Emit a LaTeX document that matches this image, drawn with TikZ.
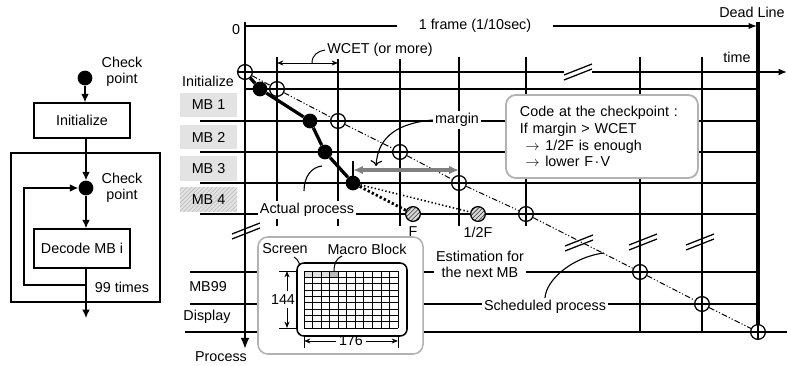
\documentclass[tikz,border=0pt]{standalone}
\usepackage{fontspec}
\setmainfont{Liberation Sans}
\usetikzlibrary{arrows.meta,positioning,patterns}

\begin{document}
\begin{tikzpicture}[x=0.025cm, y=-0.025cm,
    font=\fontsize{10.2}{11.5}\selectfont,
    flowbox/.style={draw, line width=1pt, minimum width=2.4cm, inner sep=0pt},
    flow/.style={line width=1pt, -{Latex[length=6pt,width=5.5pt]}},
    chkpt/.style={circle, fill=black, minimum size=10.5pt, inner sep=0pt},
    schedpt/.style={circle, draw, fill=white, line width=0.9pt, minimum size=10.5pt, inner sep=0pt,
        path picture={\draw[line width=0.9pt] (path picture bounding box.north) -- (path picture bounding box.south)
                      (path picture bounding box.west) -- (path picture bounding box.east);}},
    estpt/.style={circle, draw, line width=0.9pt, minimum size=10.5pt, inner sep=0pt,
        preaction={fill=gray!30}, pattern=north east lines, pattern color=black!80},
    mbbox/.style={fill=gray!22, minimum width=1.425cm, minimum height=0.6cm, inner sep=0pt},
    mbhatch/.style={preaction={fill=gray!22}, pattern=north east lines, pattern color=gray!55,
        minimum width=1.425cm, minimum height=0.6cm, inner sep=0pt},
    rowline/.style={line width=0.9pt},
    timeline/.style={line width=1.2pt},
    lbl/.style={fill=white, inner sep=1.5pt},
    dimarrow/.style={line width=0.7pt, -{Stealth[length=4.5pt,width=3.5pt]}},
    brk/.pic={\draw[line width=0.9pt] (-14,8) -- (14,-3) (-14,3) -- (14,-8);}
]
\useasboundingbox (0,0) rectangle (788,366);

% ---------------- left: flow of the decoder ----------------
\node[chkpt] (cp1) at (85,78) {};
\node[align=center] (cp1lbl) at (122,72) {Check\\point};
\node[flowbox, minimum height=0.875cm] (init) at (82,120.5) {Initialize};
\node[draw, line width=0.8pt, minimum width=3.725cm, minimum height=3.725cm, inner sep=0pt] (loopbox) at (85.5,227.5) {};
\node[chkpt] (cp2) at (86,188) {};
\node[align=center] (cp2lbl) at (122,188) {Check\\point};
\node[flowbox, minimum height=0.975cm] (decode) at (82,248.5) {Decode MB i};
\node (times) at (122,287) {99 times};

\coordinate (loopturn) at (86,285);
\coordinate (loopleft) at (24,285);
\coordinate (exitpt) at (86,318);
\draw[flow] (cp1) -- (cp1 |- init.north);
\draw[flow] (init.south -| cp2) -- (cp2);
\draw[flow] (cp2) -- (cp2 |- decode.north);
\draw[flow] (decode.south -| cp2) -- (loopturn) -- (loopleft) |- (cp2);
\draw[flow] (loopturn) -- (exitpt);

% ---------------- right: time chart ----------------
% grid of rows (processes) and columns (time)
\foreach \x in {277,338,400,459,526}
    \draw[timeline] (\x,57) -- (\x,226);
\foreach \x in {640,702}
    \draw[timeline] (\x,57) -- (\x,332);
\draw[rowline] (245,89) -- (758,89);
\foreach \y in {121,152,183,214}
    \draw[rowline] (200,\y) -- (758,\y);
\draw[rowline] (190,272) -- (758,272);
\draw[rowline] (190,304) -- (758,304);
\draw[rowline] (185,332) -- (787,332);

% axes
\draw[line width=1.6pt, -{Latex[length=8pt,width=6.5pt]}] (245,22) -- (245,349);
\draw[line width=1.6pt] (245,72) -- (564,72);
\draw[line width=1.6pt, -{Latex[length=6pt,width=5pt]}] (592,72) -- (787,72);
\draw[line width=2.2pt] (758,22) -- (758,338);
\pic at (578,72) {brk};
\pic at (246,231) {brk};
\pic at (579,243) {brk};
\pic at (643,242) {brk};
\pic at (700,242) {brk};

% frame length
\node[inner xsep=15pt] (frame) at (475,26) {1 frame (1/10sec)};
\draw[line width=0.9pt] (245,26) -- (frame.west);
\draw[line width=0.9pt, -{Latex[length=6pt,width=4.5pt]}] (frame.east) -- (757,26);
\node (zero) at (236,30) {0};
\node (deadline) at (752,12) {Dead Line};
\node (timelbl) at (737,57) {time};
\node (proclbl) at (221,357) {Process};

% row names
\node (initlbl) at (208,81) {Initialize};
\node[mbbox] (mb1) at (208.5,105) {MB 1};
\node[mbbox] (mb2) at (208.5,137) {MB 2};
\node[mbbox] (mb3) at (208.5,168.5) {MB 3};
\node[mbhatch] (mb4) at (208.5,199.5) {MB 4};
\node (mb99) at (208,287) {MB99};
\node (displbl) at (207,317) {Display};

% WCET
\coordinate (wL) at (277,63);
\coordinate (wR) at (338,63);
\coordinate (wmid) at (312,63);
\draw[line width=0.7pt, {Stealth[length=4.5pt,width=3.5pt]}-{Stealth[length=4.5pt,width=3.5pt]}] (wL) -- (wR);
\node[lbl] (wcet) at (380,50) {WCET (or more)};
\draw[line width=0.7pt] (wmid) .. controls (312,55) and (318,51) .. (wcet.west);

% scheduled process
\node[schedpt] (s0) at (245,72) {};
\node[schedpt] (s1) at (277,89) {};
\node[schedpt] (s2) at (338,121) {};
\node[schedpt] (s3) at (400,152) {};
\node[schedpt] (s4) at (459,183) {};
\node[schedpt] (s5) at (526,214) {};
\node[schedpt] (s6) at (640,272) {};
\node[schedpt] (s7) at (702,304) {};
\node[schedpt] (s8) at (758,332) {};
\foreach \a/\b in {s0/s1,s1/s2,s2/s3,s3/s4,s4/s5,s5/s6,s6/s7,s7/s8}
    \draw[line width=0.7pt, dash pattern=on 4pt off 1.5pt on 0.8pt off 1.5pt on 0.8pt off 1.5pt] (\a) -- (\b);

% actual process
\node[chkpt] (a1) at (260,89) {};
\node[chkpt] (a2) at (310,121) {};
\node[chkpt] (a3) at (325,152) {};
\node[chkpt] (a4) at (353,183) {};
\draw[line width=2.3pt] (s0) -- (a1) -- (a2) -- (a3) -- (a4);

% estimation for MB 4
\node[estpt] (fpt) at (413,214) {};
\node[estpt] (hpt) at (478,214) {};
\draw[line width=2pt, dash pattern=on 1.6pt off 1.6pt] (a4) -- (fpt);
\draw[line width=1.1pt, dash pattern=on 1pt off 1.6pt] (a4) -- (hpt);
\node[below=0pt of fpt] (flbl) {F};
\node[below=0pt of hpt] (hlbl) {1/2F};

% margin
\coordinate (mL) at (353,170);
\coordinate (mR) at (459,170);
\draw[line width=0.9pt] (353,161) -- (353,178);
\draw[black!50, line width=2.2pt, {Latex[length=7pt,width=6pt]}-{Latex[length=7pt,width=6pt]}] (mL) -- (mR);
\node[lbl] (marginlbl) at (457,120) {margin};
\coordinate (margintip) at (376,166);
\draw[line width=0.8pt, -{To[length=4pt]}] (marginlbl.west) .. controls (400,123) and (378,135) .. (margintip);

% actual process label
\node[lbl] (actlbl) at (307,210) {Actual process};
\coordinate (actA) at (304,191);
\coordinate (actB) at (322,166);
\draw[line width=0.8pt] (actA) .. controls (304,176) and (312,167) .. (actB);

% code at the checkpoint
\node[draw=gray!60, line width=1.3pt, rounded corners=7pt, fill=white, text width=4.1cm, inner xsep=0.35cm,
      minimum height=2.075cm, align=left, font=\fontsize{10.2}{12}\selectfont] (code) at (602,136.5)
    {Code at the checkpoint :\\If margin > WCET\\\hspace*{4pt}$\rightarrow$\hspace{4pt}1/2F is enough\\\hspace*{4pt}$\rightarrow$\hspace{4pt}lower F{\kern1pt}·{\kern1pt}V};

% screen and macro blocks
\node[draw=gray!60, line width=1.1pt, rounded corners=7pt, fill=white, minimum width=4.125cm, minimum height=2.925cm] (inset) at (340.5,295.5) {};
\node[draw, line width=1.1pt, rounded corners=5pt, minimum width=2.75cm, minimum height=1.825cm] (screen) at (352,299.5) {};
\foreach \c in {0,1,2}
    \fill[gray!25] ({304+\c*8.545},271) rectangle ++(8.545,6.333);
\fill[gray!55] ({304+3*8.545},271) rectangle ++(8.545,6.333);
\foreach \c in {0,...,11}
    \draw[line width=0.55pt] ({304+\c*8.545},271) -- ++(0,57);
\foreach \r in {0,...,9}
    \draw[line width=0.55pt] (304,{271+\r*6.333}) -- ++(94,0);
\node (scrlbl) at (285,249) {Screen};
\node (mblbl) at (367,249) {Macro Block};
\draw[line width=0.7pt] (294,257) .. controls (297,259) .. (300,265);
\draw[line width=0.7pt] (342,256) .. controls (336,259) and (334,263) .. (334,272);

% dimensions
\draw[line width=0.7pt] (279,271) -- (297,271);
\draw[line width=0.7pt] (279,328) -- (297,328);
\node[inner sep=2pt] (h144) at (283,299.5) {144};
\coordinate (h144t) at (287,271);
\coordinate (h144b) at (287,328);
\draw[dimarrow] (h144.north -| h144t) -- (h144t);
\draw[dimarrow] (h144.south -| h144b) -- (h144b);
\draw[line width=0.7pt] (304,336) -- (304,348);
\draw[line width=0.7pt] (398,336) -- (398,348);
\node[inner sep=2pt] (w176) at (351,341) {176};
\coordinate (w176l) at (304,341);
\coordinate (w176r) at (398,341);
\draw[dimarrow] (w176.west) -- (w176l);
\draw[dimarrow] (w176.east) -- (w176r);

% estimation and scheduled process labels
\node[lbl, align=center, font=\fontsize{10.2}{11.4}\selectfont] (estlbl) at (480,264) {Estimation for\\the next MB};
\node[lbl] (schedlbl) at (545,307) {Scheduled process};
\coordinate (schedpt) at (604,253);
\draw[line width=0.8pt] (schedlbl.north) .. controls (546,280) and (572,257) .. (schedpt);
\end{tikzpicture}
\end{document}
